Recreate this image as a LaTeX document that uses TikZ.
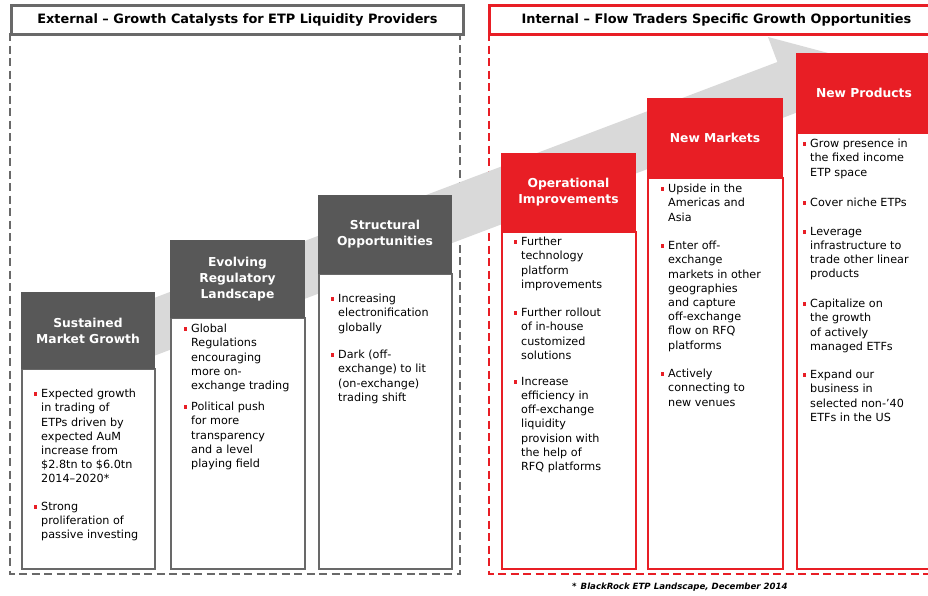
\documentclass[tikz,border=0pt]{standalone}
\usepackage{fontspec}
\setmainfont{DejaVu Sans}
\definecolor{ftred}{RGB}{232,30,37}
\definecolor{ftdark}{RGB}{88,88,88}
\definecolor{ftline}{RGB}{105,105,105}
\definecolor{arrowgray}{RGB}{217,217,217}
\tikzset{
  topbar/.style={line width=2.8pt, fill=white, inner sep=0pt, font=\bfseries\fontsize{12.9}{14}\selectfont},
  hdrbox/.style={anchor=north west, inner sep=0pt, align=center, text=white,
    font=\bfseries\fontsize{12.3}{16}\selectfont},
  hdrgray/.style={hdrbox, fill=ftdark, draw=ftdark, line width=1pt},
  hdrred/.style={hdrbox, fill=ftred, draw=ftred, line width=1pt},
  bodygray/.style={anchor=north west, inner sep=0pt, fill=white, draw=ftline, line width=1.5pt},
  bodyred/.style={anchor=north west, inner sep=0pt, fill=white, draw=ftred, line width=1.5pt},
  bodytxt/.style={anchor=north west, align=left, inner sep=0pt, text=black,
    font=\fontsize{11.2}{14.2}\selectfont,
    label={[fill=ftred, inner sep=0pt, minimum size=3.8pt, anchor=center, xshift=-5.5pt, yshift=-5pt]north west:{}}},
  grayframe/.style={draw=ftline, line width=1.4pt, dash pattern=on 8pt off 4.5pt},
  redframe/.style={draw=ftred, line width=1.4pt, dash pattern=on 8pt off 4.5pt},
}
\begin{document}
\begin{tikzpicture}[x=1pt,y=-1pt]
\useasboundingbox (0,0) rectangle (928,595);
\fill[white] (0,0) rectangle (928,595);

% dashed group frames
\coordinate (gl1) at (10,33);
\coordinate (gl2) at (10,574);
\coordinate (gl3) at (460,574);
\coordinate (gl4) at (460,33);
\draw[grayframe] (gl1) -- (gl2) -- (gl3) -- (gl4);
\coordinate (rl1) at (489,33);
\coordinate (rl2) at (489,574);
\coordinate (rl3) at (940,574);
\draw[redframe] (rl1) -- (rl2) -- (rl3);

% top bars
\node[topbar, draw=ftline, minimum width=452pt, minimum height=29pt, anchor=north west] (ext) at (10,4)
  {External -- Growth Catalysts for ETP Liquidity Providers};
\node[topbar, draw=ftred, minimum width=454pt, minimum height=29pt, anchor=north west] (int) at (488,4)
  {Internal -- Flow Traders Specific Growth Opportunities};

% big background arrow
\fill[arrowgray] (30.4,344.8) -- (777.4,62.0) -- (768,37) -- (857.1,60.7) -- (806,137.6) -- (796.6,112.6) -- (49.6,395.4) -- cycle;

% ---------- boxes ----------
% box 1
\node[bodygray, minimum width=133pt, minimum height=200pt] (k1) at (21,368) {};
\node[hdrgray, minimum width=133pt, minimum height=76pt] (h1) at (21,292) {Sustained\\Market Growth};
% box 2
\node[bodygray, minimum width=134pt, minimum height=251pt] (k2) at (170,317) {};
\node[hdrgray, minimum width=134pt, minimum height=77pt] (h2) at (170,240) {Evolving\\Regulatory\\Landscape};
% box 3
\node[bodygray, minimum width=133pt, minimum height=295pt] (k3) at (318,273) {};
\node[hdrgray, minimum width=133pt, minimum height=78pt] (h3) at (318,195) {Structural\\Opportunities};
% box 4
\node[bodyred, minimum width=134pt, minimum height=337pt] (k4) at (501,231) {};
\node[hdrred, minimum width=134pt, minimum height=78pt] (h4) at (501,153) {Operational\\Improvements};
% box 5
\node[bodyred, minimum width=135pt, minimum height=391pt] (k5) at (647,177) {};
\node[hdrred, minimum width=135pt, minimum height=79pt] (h5) at (647,98) {New Markets};
% box 6
\node[bodyred, minimum width=135pt, minimum height=436pt] (k6) at (796,132) {};
\node[hdrred, minimum width=135pt, minimum height=79pt] (h6) at (796,53) {New Products};

% ---------- bullet texts ----------
\node[bodytxt] (t1a) at (41,389) {Expected growth\\in trading of\\ETPs driven by\\expected AuM\\increase from\\\$2.8tn to \$6.0tn\\2014--2020*};
\node[bodytxt] (t1b) at (41,502) {Strong\\proliferation of\\passive investing};

\node[bodytxt] (t2a) at (191,324) {Global\\Regulations\\encouraging\\more on-\\exchange trading};
\node[bodytxt] (t2b) at (191,402) {Political push\\for more\\transparency\\and a level\\playing field};

\node[bodytxt] (t3a) at (338,294) {Increasing\\electronification\\globally};
\node[bodytxt] (t3b) at (338,350) {Dark (off-\\exchange) to lit\\(on-exchange)\\trading shift};

\node[bodytxt] (t4a) at (521,237) {Further\\technology\\platform\\improvements};
\node[bodytxt] (t4b) at (521,308) {Further rollout\\of in-house\\customized\\solutions};
\node[bodytxt] (t4c) at (521,377) {Increase\\efficiency in\\off-exchange\\liquidity\\provision with\\the help of\\RFQ platforms};

\node[bodytxt] (t5a) at (668,184) {Upside in the\\Americas and\\Asia};
\node[bodytxt] (t5b) at (668,241) {Enter off-\\exchange\\markets in other\\geographies\\and capture\\off-exchange\\flow on RFQ\\platforms};
\node[bodytxt] (t5c) at (668,369) {Actively\\connecting to\\new venues};

\node[bodytxt] (t6a) at (810,139) {Grow presence in\\the fixed income\\ETP space};
\node[bodytxt] (t6b) at (810,198) {Cover niche ETPs};
\node[bodytxt] (t6c) at (810,227) {Leverage\\infrastructure to\\trade other linear\\products};
\node[bodytxt] (t6d) at (810,299) {Capitalize on\\the growth\\of actively\\managed ETFs};
\node[bodytxt] (t6e) at (810,370) {Expand our\\business in\\selected non-'40\\ETFs in the US};

% footnote
\node[anchor=west, inner sep=0pt, font=\bfseries\itshape\fontsize{8.6}{10}\selectfont] (fn) at (572,587)
  {*\hspace{4pt}BlackRock ETP Landscape, December 2014};
\end{tikzpicture}
\end{document}
